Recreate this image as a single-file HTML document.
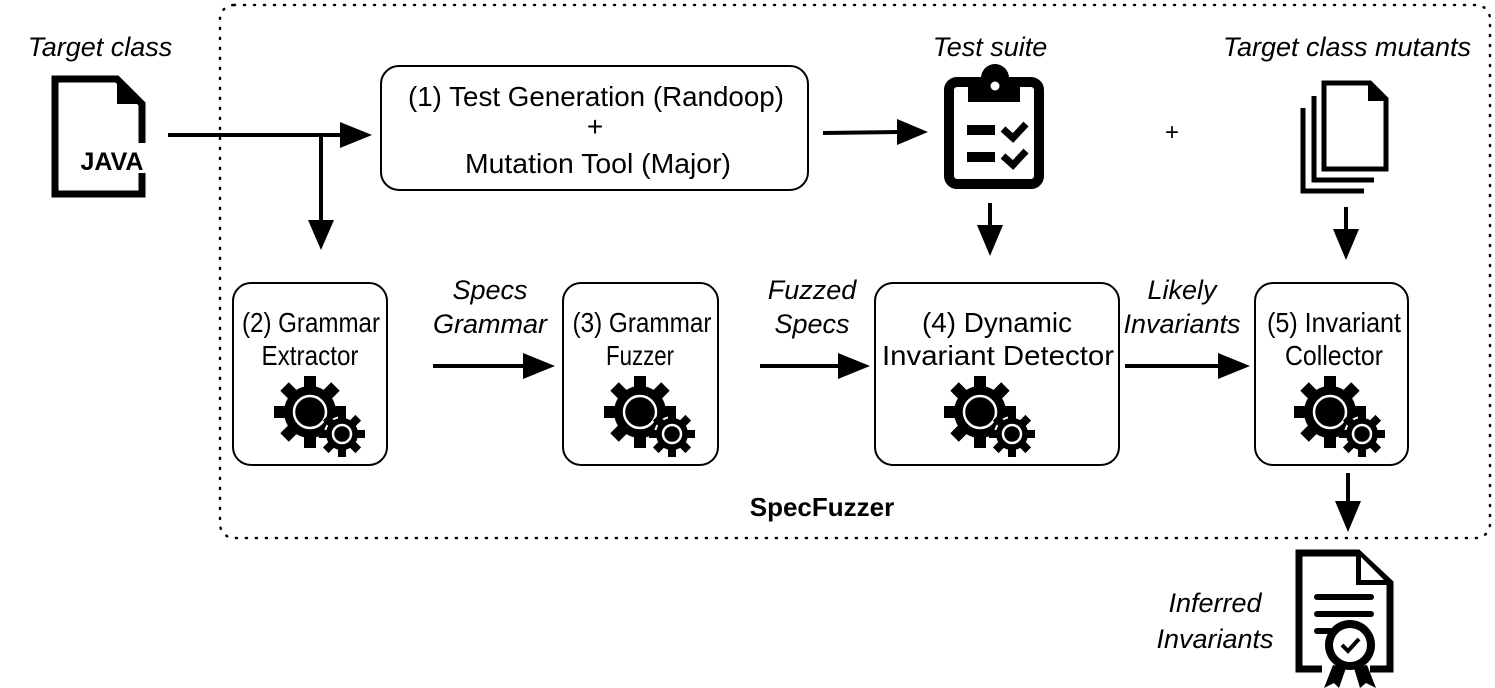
<!DOCTYPE html>
<html><head><meta charset="utf-8"><style>
html,body{margin:0;padding:0;background:#fff;}
svg{display:block;font-family:"Liberation Sans",Arial,sans-serif;}
</style></head><body>
<svg width="1495" height="688" viewBox="0 0 1495 688" xmlns="http://www.w3.org/2000/svg">
<defs>
<g id="gear">
 <g transform="translate(-12,-8)">
  <circle r="26" fill="#000"/>
  <g fill="#000">
   <rect x="-6" y="-36" width="12" height="72"/>
   <rect x="-6" y="-36" width="12" height="72" transform="rotate(45)"/>
   <rect x="-6" y="-36" width="12" height="72" transform="rotate(90)"/>
   <rect x="-6" y="-36" width="12" height="72" transform="rotate(135)"/>
  </g>
  <circle r="16" fill="none" stroke="#fff" stroke-width="2.5"/>
 </g>
 <g transform="translate(20,14)">
  <circle r="17" fill="#000" stroke="#fff" stroke-width="2"/>
  <g fill="#000">
   <rect x="-4" y="-23" width="8" height="46"/>
   <rect x="-4" y="-23" width="8" height="46" transform="rotate(45)"/>
   <rect x="-4" y="-23" width="8" height="46" transform="rotate(90)"/>
   <rect x="-4" y="-23" width="8" height="46" transform="rotate(135)"/>
  </g>
  <circle r="15" fill="#000"/>
  <circle r="9" fill="none" stroke="#fff" stroke-width="2.5"/>
 </g>
</g>
</defs>

<rect x="220" y="5" width="1270" height="533" rx="14" fill="none" stroke="#000" stroke-width="2.5" stroke-dasharray="1,9" stroke-linecap="round"/>

<g font-style="italic" font-size="27" text-anchor="middle">
<text x="100" y="56">Target class</text>
<text x="990" y="56">Test suite</text>
<text x="1347" y="56">Target class mutants</text>
<text x="490" y="299">Specs</text>
<text x="490" y="333">Grammar</text>
<text x="812" y="299">Fuzzed</text>
<text x="812" y="333">Specs</text>
<text x="1182" y="299">Likely</text>
<text x="1182" y="333">Invariants</text>
<text x="1215" y="612">Inferred</text>
<text x="1215" y="648">Invariants</text>
</g>

<polyline points="142,143 142,104 117,79 55,79 55,194 142,194 142,173" fill="none" stroke="#000" stroke-width="7"/>
<path d="M117 77 V104 H144 Z" fill="#000"/>
<text x="112" y="170" font-size="25" font-weight="bold" text-anchor="middle">JAVA</text>

<rect x="381" y="66" width="427" height="124" rx="18" fill="#fff" stroke="#000" stroke-width="2"/>
<g font-size="28" text-anchor="middle">
<text x="596" y="106" textLength="376" lengthAdjust="spacingAndGlyphs">(1) Test Generation (Randoop)</text>
<text x="595" y="136">+</text>
<text x="598" y="173" textLength="266" lengthAdjust="spacingAndGlyphs">Mutation Tool (Major)</text>
</g>

<g stroke="#000" stroke-width="4" fill="none">
<line x1="168" y1="135" x2="345" y2="135"/>
<line x1="321" y1="135" x2="321" y2="225"/>
<line x1="823" y1="133" x2="900" y2="132"/>
<line x1="990" y1="203" x2="990" y2="228"/>
<line x1="1346" y1="207" x2="1346" y2="232"/>
<line x1="433" y1="366" x2="525" y2="366"/>
<line x1="760" y1="366" x2="840" y2="366"/>
<line x1="1125" y1="366" x2="1220" y2="366"/>
<line x1="1348" y1="473" x2="1348" y2="505"/>
</g>
<g fill="#000">
<polygon points="340,122 372,135 340,148"/>
<polygon points="308,220 321,250 334,220"/>
<polygon points="897,119 928,132 897,145"/>
<polygon points="977,225 990,256 1003,225"/>
<polygon points="1333,229 1346,260 1359,229"/>
<polygon points="523,353 555,366 523,379"/>
<polygon points="838,353 870,366 838,379"/>
<polygon points="1218,353 1250,366 1218,379"/>
<polygon points="1335,501 1348,532 1361,501"/>
</g>

<rect x="949" y="82" width="90" height="102" rx="8" fill="#fff" stroke="#000" stroke-width="10"/>
<rect x="968" y="82" width="52" height="20" fill="#000"/>
<circle cx="995" cy="78" r="14" fill="#000"/>
<circle cx="995" cy="86" r="4.5" fill="#fff"/>
<rect x="967" y="125" width="28" height="10" fill="#000"/>
<rect x="967" y="152" width="28" height="10" fill="#000"/>
<polyline points="1003,129 1013,138 1026,124" fill="none" stroke="#000" stroke-width="7"/>
<polyline points="1003,156 1013,165 1026,151" fill="none" stroke="#000" stroke-width="7"/>

<text x="1172" y="140" font-size="24" text-anchor="middle">+</text>

<path d="M1303 108 V191 H1364" fill="none" stroke="#000" stroke-width="5"/>
<path d="M1314 96 V180 H1374" fill="none" stroke="#000" stroke-width="5"/>
<path d="M1324 83 H1370 L1386 99 V169 H1324 Z" fill="#fff" stroke="#000" stroke-width="5"/>
<path d="M1368 81 V101 H1388 Z" fill="#000"/>

<g fill="#fff" stroke="#000" stroke-width="2">
<rect x="233" y="283" width="154" height="182" rx="18"/>
<rect x="563" y="283" width="155" height="182" rx="18"/>
<rect x="875" y="283" width="244" height="182" rx="18"/>
<rect x="1255" y="283" width="153" height="182" rx="18"/>
</g>
<g font-size="28" text-anchor="middle" lengthAdjust="spacingAndGlyphs">
<text x="311" y="332" textLength="138" lengthAdjust="spacingAndGlyphs">(2) Grammar</text>
<text x="310" y="365" textLength="97" lengthAdjust="spacingAndGlyphs">Extractor</text>
<text x="642" y="332" textLength="139" lengthAdjust="spacingAndGlyphs">(3) Grammar</text>
<text x="640" y="365" textLength="68" lengthAdjust="spacingAndGlyphs">Fuzzer</text>
<text x="997" y="332" textLength="150" lengthAdjust="spacingAndGlyphs">(4) Dynamic</text>
<text x="998" y="365" textLength="232" lengthAdjust="spacingAndGlyphs">Invariant Detector</text>
<text x="1334" y="332" textLength="134" lengthAdjust="spacingAndGlyphs">(5) Invariant</text>
<text x="1334" y="365" textLength="98" lengthAdjust="spacingAndGlyphs">Collector</text>
</g>
<use href="#gear" x="322" y="420"/>
<use href="#gear" x="652" y="420"/>
<use href="#gear" x="992" y="420"/>
<use href="#gear" x="1342" y="420"/>

<text x="822" y="516" font-size="26" font-weight="bold" text-anchor="middle">SpecFuzzer</text>

<polyline points="1322,669 1299,669 1299,553 1358,553 1390,583 1390,669 1370,669" fill="none" stroke="#000" stroke-width="7"/>
<path d="M1356 551 V585 H1392 Z" fill="#000"/>
<path d="M1361 557 V580 H1384 Z" fill="#fff"/>
<g stroke="#000" stroke-width="6" stroke-linecap="round">
<line x1="1317" y1="597" x2="1371" y2="597"/>
<line x1="1317" y1="614" x2="1371" y2="614"/>
<line x1="1317" y1="631" x2="1330" y2="631"/>
</g>
<polygon points="1333,665 1324,688 1334,683 1339,688 1346,668" fill="#000"/>
<polygon points="1354,668 1360,688 1366,683 1376,688 1367,665" fill="#000"/>
<circle cx="1350" cy="645" r="25" fill="#000"/>
<circle cx="1350" cy="645" r="17" fill="#fff"/>
<polyline points="1342,645 1348,651 1359,639" fill="none" stroke="#000" stroke-width="4"/>
</svg>
</body></html>
